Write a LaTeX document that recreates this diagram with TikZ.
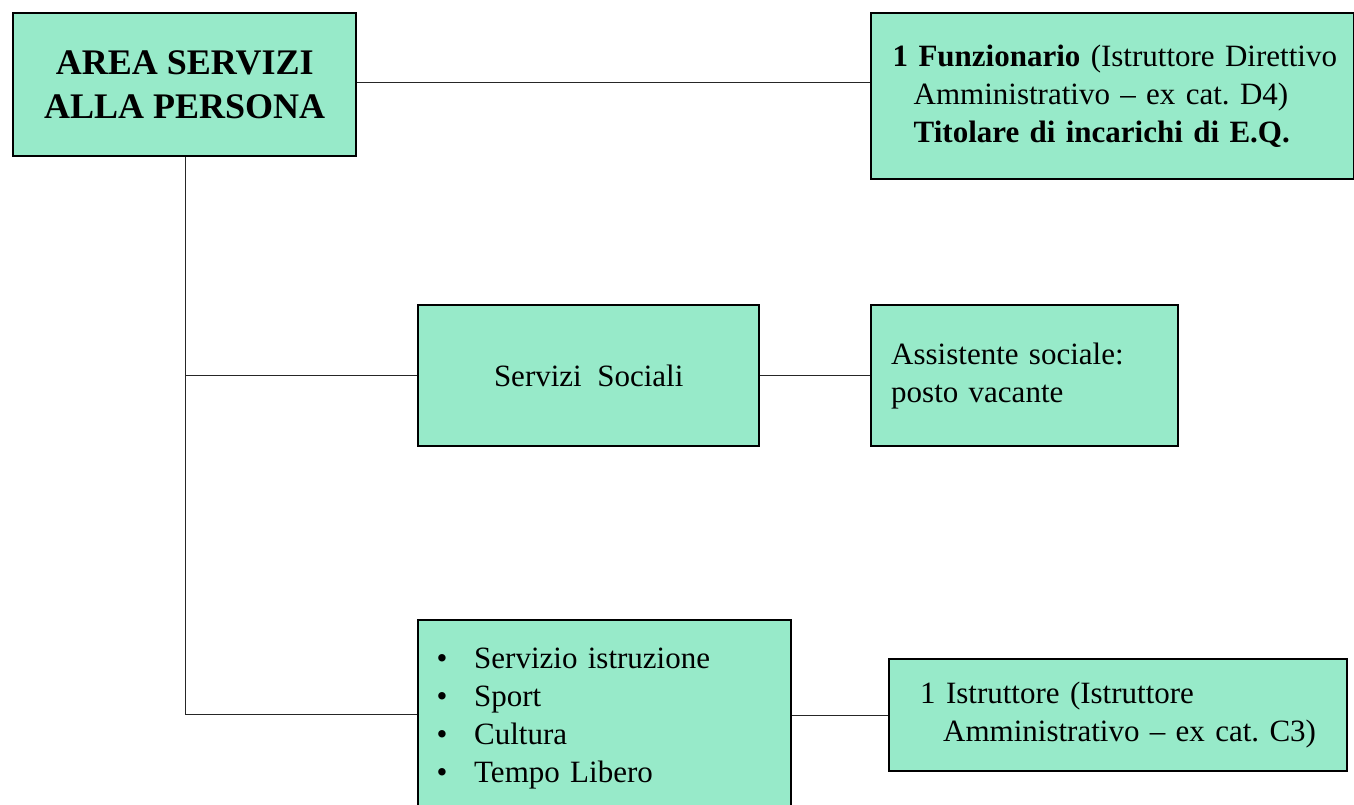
\documentclass[tikz,border=0pt]{standalone}
\usepackage{fontspec}
\setmainfont{Liberation Serif}
\usetikzlibrary{calc}
\definecolor{boxgreen}{RGB}{151,234,201}
\tikzset{
  orgbox/.style={draw=black, fill=boxgreen, line width=2.4pt, inner sep=0pt, anchor=north west},
  link/.style={line width=1pt, black!85}
}
\newcommand{\bigfont}{\fontsize{36}{44}\selectfont}
\newcommand{\txtfont}{\fontsize{31}{38}\selectfont\frenchspacing}
\newcommand{\blt}{\makebox[37.5pt][l]{\textbullet}}

\begin{document}
\begin{tikzpicture}[x=1pt, y=-1pt]
  \useasboundingbox (0,0) rectangle (1354,805);

  % boxes
  \node[orgbox, minimum width=343pt, minimum height=143pt, align=center,
        font=\bigfont\bfseries] (area) at (12,12) {AREA SERVIZI\\ALLA PERSONA};
  \node[orgbox, minimum width=483pt, minimum height=166pt, text width=460pt,
        align=left, font=\txtfont] (funz) at (870,12)
        {\hspace*{10pt}\textbf{1 Funzionario} (Istruttore Direttivo\\
         \hspace*{31pt}Amministrativo -- ex cat. D4)\\
         \hspace*{31pt}\textbf{Titolare di incarichi di E.Q.}};
  \node[orgbox, minimum width=341pt, minimum height=141pt, align=center,
        font=\txtfont] (sociali) at (417,304) {Servizi\ \ Sociali};
  \node[orgbox, minimum width=307pt, minimum height=141pt, text width=287pt,
        align=left, font=\txtfont] (assist) at (870,304)
        {\hspace*{10pt}Assistente sociale:\\ \hspace*{10pt}posto vacante};
  \node[orgbox, minimum width=373pt, minimum height=189pt, text width=350pt,
        align=left, font=\txtfont] (istruz) at (417,619)
        {\hspace*{7pt}\blt\rule{0pt}{29pt}Servizio istruzione\\
         \hspace*{7pt}\blt Sport\\
         \hspace*{7pt}\blt Cultura\\
         \hspace*{7pt}\blt Tempo Libero};
  \node[orgbox, minimum width=458pt, minimum height=112pt, text width=440pt,
        align=left, font=\txtfont] (istrut) at (888,658)
        {\hspace*{22pt}1 Istruttore (Istruttore\\
         \hspace*{45pt}Amministrativo -- ex cat. C3)};

  % connectors
  \coordinate (trunk) at ($(area.south west)!0.502!(area.south east)$);
  \draw[link] (area.east |- 0,83) -- (funz.west |- 0,83);
  \draw[link] (trunk) |- (sociali.west);
  \draw[link] (trunk) |- (istruz.west);
  \draw[link] (sociali.east) -- (assist.west);
  \draw[link] (istrut.west) -- (istrut.west -| istruz.east);
\end{tikzpicture}
\end{document}
